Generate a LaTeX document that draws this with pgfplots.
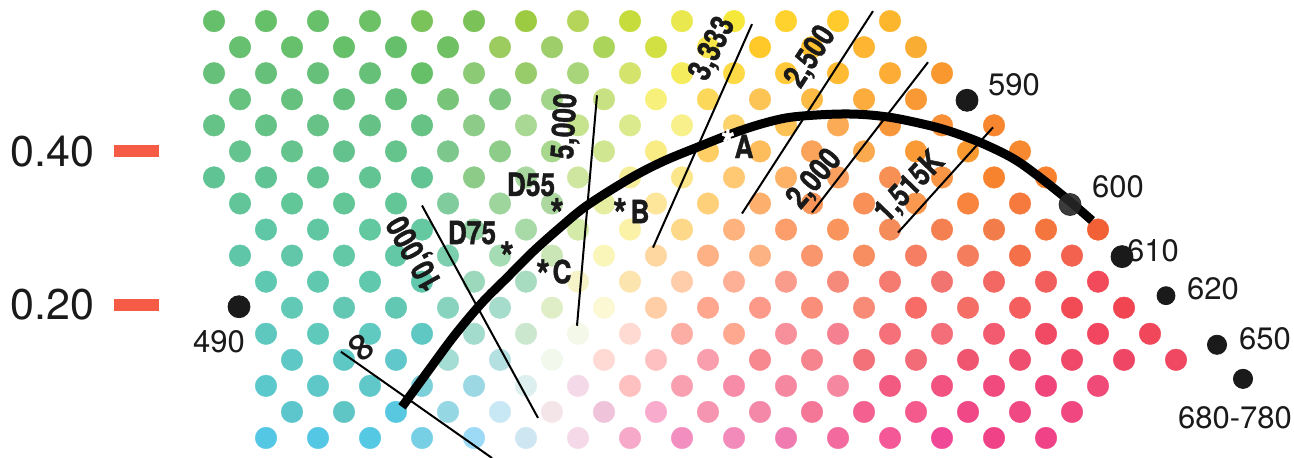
\documentclass[border=0pt]{standalone}
\usepackage{pgfplots}
\pgfplotsset{compat=1.18}
\usepackage{fontspec}
\setmainfont{TeX Gyre Heros}
\newfontfamily\condfont{TeX Gyre Heros}[FakeStretch=0.82, FakeBold=1.2]
\newfontfamily\dejavu{DejaVu Sans}
\definecolor{tickred}{HTML}{F55B45}
\definecolor{txt}{HTML}{1A1A1A}
\begin{document}
\begin{tikzpicture}
\begin{axis}[at={(0,0)}, anchor=south west,
  width=647pt, height=228.5pt, scale only axis,
  xmin=0, xmax=1294, ymin=0, ymax=457, y dir=reverse,
  hide axis, clip=false, clip mode=individual]
% ---- colour dots
\addplot[scatter, only marks, mark=*, mark size=5.4pt,
  point meta=explicit symbolic,
  scatter/@pre marker code/.code={%
    \edef\temp{\noexpand\definecolor{dotc}{HTML}{\pgfplotspointmeta}}\temp
    \scope[fill=dotc,draw=dotc,line width=0.2pt]},
  scatter/@post marker code/.code={\endscope}]
table[x=x,y=y,meta=c] {
x y c
214 22 66BF6A
266 22 66BF69
318 22 68C06A
370 22 6CC065
422 22 7AC35A
474 22 7BC258
526 22 9CCB42
578 22 B5D55A
630 22 C5DC3C
682 22 E9E84F
734 22 F5E83A
786 22 FFD22E
838 22 FFCB2C
890 22 FBB62E
240 48 66C070
292 48 66C06C
344 48 66C06A
396 48 66C06B
448 48 6FC062
500 48 9CCB5F
552 48 9ECE6A
604 48 AAD45A
656 48 D2E044
708 48 F6E54A
760 48 FFC92A
812 48 FFC12F
864 48 FDB532
916 48 F9AD33
214 74 66C07A
266 74 66C07A
318 74 66C07A
370 74 67C078
422 74 66C068
474 74 8CCA76
526 74 98CC6B
578 74 A8D57A
630 74 D3E36C
682 74 F4EC5C
734 74 FCD945
786 74 FFC93A
838 74 FFBA33
890 74 FDAD35
942 74 F9982F
240 100 66C27E
292 100 66C17E
344 100 66C07D
396 100 66C17C
448 100 78C57A
500 100 7FC780
552 100 A2D58A
604 100 C8E182
656 100 F7F07A
708 100 FCD85A
760 100 FBC455
812 100 FBBB45
864 100 FBAC3C
916 100 F89935
214 126 65C387
266 126 64C286
318 126 66C286
370 126 66C186
422 126 66C285
474 126 8DCC88
526 126 A9D894
578 126 C6E38E
630 126 DCEA8E
682 126 F8F08A
734 126 FCD36A
786 126 FCC255
838 126 FBAA55
890 126 F8963B
942 126 F98F37
994 126 F7862F
240 152 64C38E
292 152 65C38D
344 152 64C38D
396 152 65C38C
448 152 7CC88C
500 152 8ECC8A
552 152 A8D88E
604 152 D0E690
656 152 F9EC85
708 152 FFCF66
760 152 FDBD5C
812 152 F9A45A
864 152 FAA94E
916 152 F99A36
968 152 F99A30
1020 152 F78A30
214 178 60C394
266 178 60C394
318 178 61C492
370 178 61C492
422 178 61C492
474 178 8DCB88
526 178 A8D8A0
578 178 CEE6A0
630 178 F4EE9A
682 178 FBE68A
734 178 FFC872
786 178 FCB164
838 178 F9A060
890 178 F79055
942 178 F89645
994 178 F8832E
1046 178 F8812E
240 204 61C599
292 204 61C698
344 204 62C697
396 204 62C696
448 204 80CC9C
500 204 9ED59C
552 204 ACD8A0
604 204 E6EEA2
656 204 FDE699
708 204 FFD07A
760 204 FDB06E
812 204 F79559
864 204 F89058
916 204 F9984E
968 204 F8843E
1020 204 F67A3E
266 230 5FC7A6
318 230 60C7A2
370 230 62C8A0
422 230 64C8A0
474 230 94D3A6
526 230 A8DAA8
578 230 D4EAA8
630 230 FBF2A8
682 230 FCD888
734 230 FEB27E
786 230 FB9E6C
838 230 F8945C
890 230 F48C5A
942 230 F48052
994 230 F37D4A
1046 230 F5753E
1098 230 F26035
240 256 5FC7A8
292 256 61C7A8
344 256 62C8A6
396 256 62C8A5
448 256 7CCFAE
500 256 A6DCB4
552 256 CBE6B6
604 256 FAF6BA
656 256 FDD6A0
708 256 FDB184
760 256 FDB283
812 256 F9966E
864 256 F68E62
916 256 F67E62
968 256 F47D5E
1020 256 F47048
1072 256 F3624E
266 282 5FC8B0
318 282 5FC8AE
370 282 60C8AC
422 282 61C8AE
474 282 9CD8BC
526 282 A8DCC0
578 282 F6F3C8
630 282 FCE4AE
682 282 FFCDAA
734 282 FEB096
786 282 F99C8C
838 282 F58A7A
890 282 F57A70
942 282 F27470
994 282 F36862
1046 282 F25E5C
1098 282 F24A5A
292 308 62C9B6
344 308 62C8B4
396 308 62C8B3
448 308 88D3BE
500 308 A5DCCB
552 308 E0EEC8
604 308 FBF8D3
656 308 FFCEA6
708 308 FFA78E
760 308 FC9988
812 308 F98F7A
864 308 F88A78
916 308 F76C66
968 308 F46E66
1020 308 F45E5F
1072 308 F24B55
1124 308 F24552
266 334 5EC8BE
318 334 5FC9BC
370 334 60C9C0
422 334 60C8C3
474 334 A3DCCD
526 334 CBE8CE
578 334 F3F8E8
630 334 FFDAD2
682 334 FCAEA4
734 334 FEA890
786 334 F7909A
838 334 F58090
890 334 F57078
942 334 F46E7A
994 334 F25B70
1046 334 F04A65
1098 334 F24660
1150 334 F0485A
292 360 5DC8C6
344 360 5EC8C4
396 360 60C8CA
448 360 A4DDD4
500 360 B4E0E2
552 360 F2F8EC
604 360 FFDAD5
656 360 FEC0C0
708 360 F89EAC
760 360 F7888F
812 360 F5848E
864 360 F27078
916 360 F26C78
968 360 F05570
1020 360 F04E6E
1072 360 F04868
1124 360 F04665
1176 360 F04862
266 386 5BC8CB
318 386 5EC8C8
370 386 60C8C8
422 386 7CD0DA
474 386 9BD8E4
526 386 DDEFEE
578 386 F4DAE9
630 386 FFC0C0
682 386 F8A0B0
734 386 F68CA8
786 386 F588A0
838 386 F587A0
890 386 F25A82
942 386 F25280
994 386 F04A7E
1046 386 F0457A
1098 386 F04A78
292 412 5CC6CC
344 412 5FC6C5
396 412 58C8E0
448 412 96D7E4
500 412 C8E8F5
552 412 F4E6E8
604 412 EFC4DB
656 412 F8ABCC
708 412 F595B2
760 412 F488A8
812 412 F47798
864 412 F46090
916 412 F45A8C
968 412 F04786
1020 412 F04883
1072 412 F04780
266 438 54C7E4
318 438 54C7E4
370 438 55C8E3
422 438 76CFE4
474 438 9CDAF5
526 438 CDE6F2
578 438 F5D9E8
630 438 F7A9CA
682 438 F38FC0
734 438 F38BBA
786 438 F07BB0
838 438 F26A9E
890 438 F45896
942 438 F04896
994 438 F04286
1046 438 F04286
};
% ---- isotherm lines
\addplot[black, line width=1pt] coordinates {(341,352) (492,458)};
\addplot[black, line width=1pt] coordinates {(422,206) (538,418)};
\addplot[black, line width=1pt] coordinates {(597,96) (577,326)};
\addplot[black, line width=1pt] coordinates {(752,25) (653,248)};
\addplot[black, line width=1pt] coordinates {(873,12) (742,214)};
\addplot[black, line width=1pt] coordinates {(928,63) (812,213)};
\addplot[black, line width=1pt] coordinates {(993,128) (898,233)};
% ---- Planckian locus
\addplot[black, line width=4.5pt, smooth, tension=0.55] coordinates {
(402,407) (429,370) (455,335) (482,303) (507,278) (533,252) (560,228)
(587,206) (630,179) (663,162) (697,148) (730,135) (760,125) (790,118)
(830,115) (860,115) (890,118) (920,124) (947,131) (980,143) (1013,159)
(1040,178) (1070,202) (1092,221)};
% ---- red tick marks
\addplot[tickred, line width=6pt] coordinates {(114,152) (159,152)};
\addplot[tickred, line width=6pt] coordinates {(114,305) (159,305)};
% ---- wavelength dots
\addplot[only marks, mark=*, mark size=5.5pt, color=txt] coordinates {(239,307) (967,101) (1122,257)};
\addplot[only marks, mark=*, mark size=5.5pt, color=black!85, opacity=0.9] coordinates {(1070,205)};
\addplot[only marks, mark=*, mark size=4.5pt, color=txt] coordinates {(1166,296)};
\addplot[only marks, mark=*, mark size=4.8pt, color=txt] coordinates {(1217,345) (1243,379)};
% ---- texts
\node[anchor=east, inner sep=0pt, text=txt, font=\fontsize{21.5}{21.5}\selectfont] at (axis cs:95,152) {0.40};
\node[anchor=east, inner sep=0pt, text=txt, font=\fontsize{21.5}{21.5}\selectfont] at (axis cs:95,305) {0.20};
\begin{scope}[every node/.style={inner sep=0pt, text=txt, font=\fontsize{15.5}{15.5}\selectfont}]
\node at (axis cs:219,342) {490};
\node at (axis cs:1014,85) {590};
\node at (axis cs:1118,187) {600};
\node at (axis cs:1153,251) {610};
\node at (axis cs:1213,289) {620};
\node at (axis cs:1265,339) {650};
\node at (axis cs:1235,418) {680-780};
\end{scope}
\begin{scope}[every node/.style={inner sep=0pt, text=txt, font=\condfont\bfseries\fontsize{16}{16}\selectfont}]
\node at (axis cs:531,185) {D55};
\node at (axis cs:472,233) {D75};
\node at (axis cs:562,272) {C};
\node at (axis cs:640,212) {B};
\node at (axis cs:744,147) {A};
\node[rotate=119] at (axis cs:416,253) {10,000};
\node[rotate=87] at (axis cs:566,127) {5,000};
\node[rotate=64] at (axis cs:713,50) {3,333};
\node[rotate=57] at (axis cs:811,58) {2,500};
\node[rotate=50] at (axis cs:815,180) {2,000};
\node[rotate=46] at (axis cs:910,188) {1,515K};
\end{scope}
\begin{scope}[every node/.style={inner sep=0pt, text=txt, font=\condfont\bfseries\fontsize{21}{21}\selectfont}]
\node at (axis cs:557,214) {*};
\node at (axis cs:507,257) {*};
\node at (axis cs:543,275) {*};
\node at (axis cs:620,214) {*};
\node[text=white] at (axis cs:728,145) {*};
\end{scope}
\node[inner sep=0pt, text=txt, rotate=-50, font=\dejavu\bfseries\fontsize{20}{20}\selectfont] at (axis cs:360,349) {∞};
\end{axis}
\pgfresetboundingbox
\path (0,0) rectangle (647pt,228.5pt);
\end{tikzpicture}
\end{document}
